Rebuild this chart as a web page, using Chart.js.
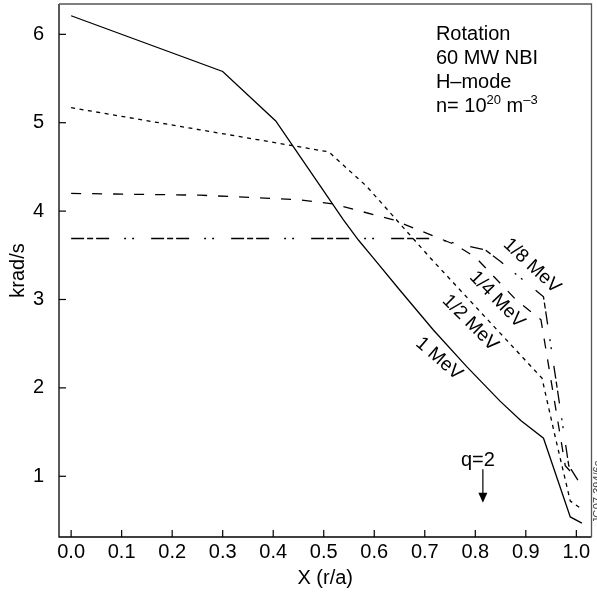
<!DOCTYPE html>
<html>
<head>
<meta charset="utf-8">
<script src="https://cdn.jsdelivr.net/npm/chart.js@4"></script>
<style>
  html, body { margin: 0; padding: 0; background: #fff; }
</style>
</head>
<body>
<canvas id="chart" width="597" height="593"></canvas>
<script>
// values (x = r/a, y = krad/s)
const mev1X = [0.0, 0.30, 0.405, 0.453, 0.539, 0.569, 0.598, 0.65, 0.717, 0.783, 0.849, 0.89, 0.935, 0.988, 1.011];
const mev1Y = [6.21, 5.58, 5.02, 4.62, 3.90, 3.67, 3.47, 3.11, 2.655, 2.24, 1.85, 1.63, 1.43, 0.54, 0.47];

const mevHalfX = [0.0, 0.255, 0.51, 0.585, 0.711, 0.862, 0.932, 0.958, 0.988, 1.008];
const mevHalfY = [5.17, 4.92, 4.67, 4.28, 3.47, 2.54, 2.11, 1.45, 0.72, 0.64];

const mevQuarterX = [0.0, 0.255, 0.45, 0.52, 0.638, 0.76, 0.80, 0.88, 0.93, 0.978, 1.0];
const mevQuarterY = [4.20, 4.18, 4.13, 4.08, 3.90, 3.62, 3.48, 3.00, 2.77, 1.12, 0.98];

const mevEighthX = [0.0, 0.72, 0.82, 0.85, 0.935, 0.985, 1.006];
const mevEighthY = [3.69, 3.69, 3.56, 3.43, 3.03, 1.12, 0.93];

const xTicks = [0.0, 0.1, 0.2, 0.3, 0.4, 0.5, 0.6, 0.7, 0.8, 0.9, 1.0];
const yTicks = [1, 2, 3, 4, 5, 6];

const curveLabels = ['1 MeV', '1/2 MeV', '1/4 MeV', '1/8 MeV'];
const curveLabelX = [0.728, 0.790, 0.843, 0.912];
const curveLabelY = [2.33, 2.735, 3.00, 3.38];
const curveLabelAngle = [41, 45, 46, 43];

const qPos = 0.815;          // q=2 surface
const qArrowY = [1.08, 0.70];

const FONT = '"Liberation Sans", Arial, Helvetica, sans-serif';

function pts(xs, ys) {
  return xs.map((x, i) => ({ x: x, y: ys[i] }));
}

function series(xs, ys, dash) {
  return {
    data: pts(xs, ys),
    borderColor: '#000',
    borderWidth: 1.3,
    borderDash: dash,
    pointRadius: 0,
    fill: false,
    tension: 0
  };
}

const decorations = {
  id: 'decorations',
  afterDraw(chart) {
    const { ctx, chartArea: a, scales: { x, y } } = chart;
    ctx.save();

    // frame
    ctx.lineWidth = 1.3;
    ctx.strokeStyle = '#000';
    ctx.beginPath();
    ctx.moveTo(a.left, a.top);
    ctx.lineTo(a.left, a.bottom);
    ctx.lineTo(a.right, a.bottom);
    ctx.stroke();
    ctx.strokeStyle = '#555';
    ctx.beginPath();
    ctx.moveTo(a.left, a.top);
    ctx.lineTo(a.right, a.top);
    ctx.lineTo(a.right, a.bottom);
    ctx.stroke();

    // ticks pointing inward
    ctx.strokeStyle = '#000';
    ctx.lineWidth = 1.2;
    xTicks.forEach(v => {
      const px = x.getPixelForValue(v);
      ctx.beginPath();
      ctx.moveTo(px, a.bottom);
      ctx.lineTo(px, a.bottom - 7);
      ctx.stroke();
    });
    yTicks.forEach(v => {
      const py = y.getPixelForValue(v);
      ctx.beginPath();
      ctx.moveTo(a.left, py);
      ctx.lineTo(a.left + 7, py);
      ctx.stroke();
    });

    // rotated curve labels
    ctx.fillStyle = '#000';
    ctx.font = '19px ' + FONT;
    ctx.textAlign = 'center';
    ctx.textBaseline = 'middle';
    curveLabels.forEach((t, i) => {
      ctx.save();
      ctx.translate(x.getPixelForValue(curveLabelX[i]), y.getPixelForValue(curveLabelY[i]));
      ctx.rotate(curveLabelAngle[i] * Math.PI / 180);
      ctx.fillText(t, 0, 0);
      ctx.restore();
    });

    // info text, top right
    const tx = x.getPixelForValue(0.722);
    ctx.textAlign = 'left';
    ctx.textBaseline = 'alphabetic';
    ctx.font = '20px ' + FONT;
    ctx.fillText('Rotation', tx, 40);
    ctx.fillText('60 MW NBI', tx, 64);
    ctx.fillText('H\u2013mode', tx, 88);
    let cx = tx;
    const part = (s, size, dy) => {
      ctx.font = size + 'px ' + FONT;
      ctx.fillText(s, cx, 112 + dy);
      cx += ctx.measureText(s).width;
    };
    part('n= 10', 20, 0);
    part('20', 13, -8);
    part(' m', 20, 0);
    part('\u20133', 13, -8);

    // q=2 marker
    const qx = x.getPixelForValue(qPos);
    const y0 = y.getPixelForValue(qArrowY[0]);
    const y1 = y.getPixelForValue(qArrowY[1]);
    ctx.font = '20px ' + FONT;
    ctx.textAlign = 'center';
    ctx.fillText('q=2', qx - 5, y0 - 3);
    ctx.lineWidth = 1.2;
    ctx.beginPath();
    ctx.moveTo(qx, y0);
    ctx.lineTo(qx, y1 - 9);
    ctx.stroke();
    ctx.beginPath();
    ctx.moveTo(qx - 4.5, y1 - 10);
    ctx.lineTo(qx + 4.5, y1 - 10);
    ctx.lineTo(qx, y1);
    ctx.closePath();
    ctx.fill();

    // figure id at the right edge (partly cut off, as in the source)
    ctx.save();
    ctx.fillStyle = '#444';
    ctx.font = '11px ' + FONT;
    ctx.translate(601, 492);
    ctx.rotate(-Math.PI / 2);
    ctx.fillText('JG07.394/6c', 0, 0);
    ctx.restore();

    ctx.restore();
  }
};

new Chart(document.getElementById('chart').getContext('2d'), {
  type: 'line',
  data: {
    datasets: [
      series(mev1X, mev1Y, []),
      series(mevHalfX, mevHalfY, [4, 4.5]),
      series(mevQuarterX, mevQuarterY, [10, 11]),
      series(mevEighthX, mevEighthY, [13, 3, 6, 3, 13, 15, 2, 6, 2, 17])
    ]
  },
  options: {
    responsive: false,
    animation: false,
    layout: { padding: { top: 4, right: 5.5, left: 0, bottom: 0 } },
    plugins: { legend: { display: false }, tooltip: { enabled: false } },
    scales: {
      x: {
        type: 'linear',
        min: -0.024,
        max: 1.03,
        afterBuildTicks: s => { s.ticks = xTicks.map(v => ({ value: v })); },
        afterFit: s => { s.height = 56; s.paddingLeft = 0; s.paddingRight = 0; },
        grid: { display: false },
        border: { display: false },
        ticks: {
          autoSkip: false,
          maxRotation: 0,
          padding: -5,
          color: '#000',
          font: { family: FONT, size: 20 },
          callback: v => v.toFixed(1)
        },
        title: {
          display: true,
          text: 'X (r/a)',
          color: '#000',
          font: { family: FONT, size: 20 },
          padding: { top: 0, bottom: 3 }
        }
      },
      y: {
        type: 'linear',
        min: 0.313,
        max: 6.343,
        afterBuildTicks: s => { s.ticks = yTicks.map(v => ({ value: v })); },
        afterFit: s => { s.width = 59; s.paddingTop = 0; s.paddingBottom = 0; },
        grid: { display: false },
        border: { display: false },
        ticks: {
          padding: 7,
          color: '#000',
          font: { family: FONT, size: 20 },
          callback: v => String(v)
        },
        title: {
          display: true,
          text: 'krad/s',
          color: '#000',
          font: { family: FONT, size: 20 },
          padding: { top: 6, bottom: 0 }
        }
      }
    }
  },
  plugins: [decorations]
});
</script>
</body>
</html>
